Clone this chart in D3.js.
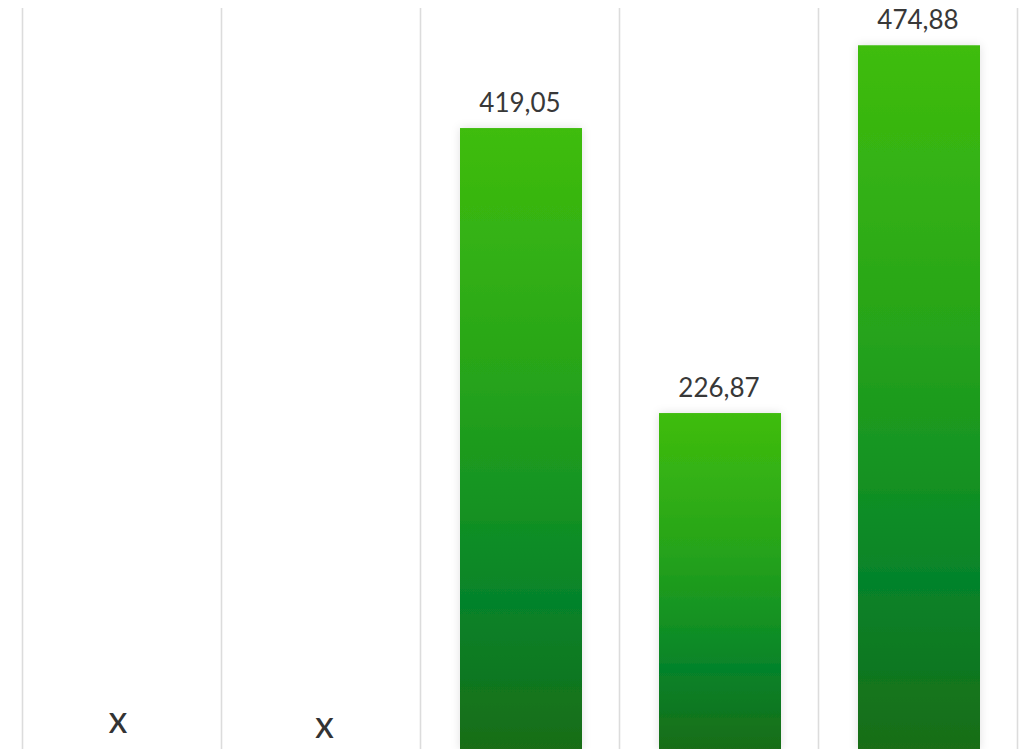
<!DOCTYPE html>
<html>
<head>
<meta charset="utf-8">
<script src="https://cdn.jsdelivr.net/npm/d3@7"></script>
<style>
  html, body { margin: 0; padding: 0; background: #fff; overflow: hidden; }
  svg { display: block; }
</style>
</head>
<body>
<svg id="chart" width="1023" height="749"></svg>
<script>
// Data
const categories = ["A", "B", "C", "D", "E"];
const values = [null, null, 419.05, 226.87, 474.88];
const valueLabels = ["x", "x", "419,05", "226,87", "474,88"];
const missingOffsets = [-4, 3.5];      // small horizontal shifts of the missing markers
const missingBaselines = [733, 737.5];

const W = 1023, H = 749;
const svg = d3.select("#chart");

const x = d3.scaleBand().domain(categories).range([22.5, 1017.5]).padding(0);
const y = d3.scaleLinear().domain([0, 500]).range([749.5, 8]);
const barW = 122;

const defs = svg.append("defs");
const grad = defs.append("linearGradient")
  .attr("id", "barGrad").attr("x1", 0).attr("y1", 0).attr("x2", 0).attr("y2", 1);
[[0, "#3fbd0d"], [0.4, "#27a41a"], [0.6, "#159322"], [0.76, "#05832a"], [1, "#1a6d17"]]
  .forEach(([o, c]) => grad.append("stop").attr("offset", o).attr("stop-color", c));

const filt = defs.append("filter").attr("id", "shadow")
  .attr("x", "-30%").attr("y", "-10%").attr("width", "160%").attr("height", "120%");
filt.append("feDropShadow").attr("dx", 0).attr("dy", 0).attr("stdDeviation", 5)
  .attr("flood-color", "#000").attr("flood-opacity", 0.12);

// gridlines (band boundaries)
const bounds = categories.map(c => x(c)).concat([x(categories[categories.length - 1]) + x.bandwidth()]);
svg.append("g").selectAll("line").data(bounds).join("line")
  .attr("x1", d => d).attr("x2", d => d)
  .attr("y1", y(500)).attr("y2", H)
  .attr("stroke", "#dcdcdc").attr("stroke-width", 1.6);

const data = categories.map((c, i) => ({ c, v: values[i], label: valueLabels[i] }));

// bars
svg.append("g").selectAll("rect").data(data.filter(d => d.v != null)).join("rect")
  .attr("x", d => x(d.c) + x.bandwidth() / 2 - barW / 2 + 1)
  .attr("width", barW)
  .attr("y", d => y(d.v))
  .attr("height", d => y(0) - y(d.v))
  .attr("fill", "url(#barGrad)")
  .attr("filter", "url(#shadow)");

// value labels
svg.append("g").selectAll("text").data(data.filter(d => d.v != null)).join("text")
  .attr("x", d => x(d.c) + x.bandwidth() / 2)
  .attr("y", d => y(d.v) - 16)
  .attr("text-anchor", "middle")
  .attr("font-family", "Lato, 'Open Sans', sans-serif")
  .attr("font-size", 26)
  .attr("fill", "#383838")
  .text(d => d.label);

// missing markers
svg.append("g").selectAll("text").data(data.filter(d => d.v == null)).join("text")
  .attr("x", (d, i) => x(d.c) + x.bandwidth() / 2 + missingOffsets[i])
  .attr("y", (d, i) => missingBaselines[i])
  .attr("text-anchor", "middle")
  .attr("font-family", "Lato, 'Open Sans', sans-serif")
  .attr("font-size", 38)
  .attr("fill", "#333")
  .text(d => d.label);
</script>
</body>
</html>
